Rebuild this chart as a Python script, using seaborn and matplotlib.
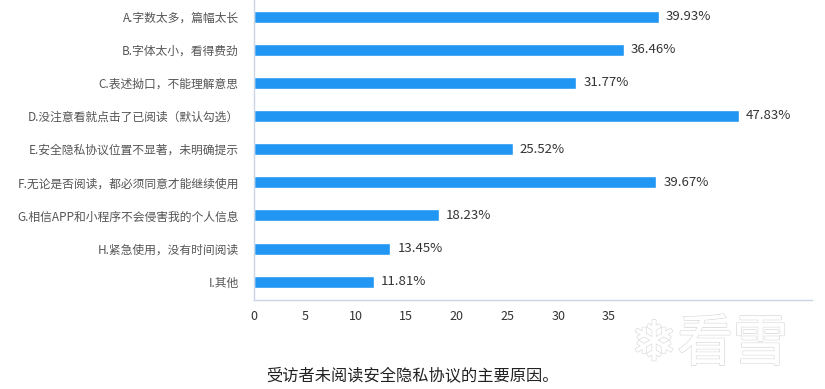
import matplotlib
matplotlib.use("Agg")
import matplotlib.pyplot as plt
import matplotlib.patheffects as pe
import seaborn as sns
import pandas as pd

categories = [
    "A.字数太多，篇幅太长",
    "B.字体太小，看得费劲",
    "C.表述拗口，不能理解意思",
    "D.没注意看就点击了已阅读（默认勾选）",
    "E.安全隐私协议位置不显著，未明确提示",
    "F.无论是否阅读，都必须同意才能继续使用",
    "G.相信APP和小程序不会侵害我的个人信息",
    "H.紧急使用，没有时间阅读",
    "I.其他",
]
values = [39.93, 36.46, 31.77, 47.83, 25.52, 39.67, 18.23, 13.45, 11.81]
xticks = [0, 5, 10, 15, 20, 25, 30, 35]
caption = "受访者未阅读安全隐私协议的主要原因。"

sns.set_style("white")
plt.rcParams["font.family"] = ["Noto Sans CJK SC", "DejaVu Sans"]

df = pd.DataFrame({"reason": categories, "pct": values})

fig = plt.figure(figsize=(8.25, 3.89), dpi=100)
ax = fig.add_axes([0.308, 0.229, 0.676, 0.771])

sns.barplot(data=df, y="reason", x="pct", color="#2196f3", saturation=1,
            width=0.36, orient="h", ax=ax)

for i, v in enumerate(values):
    ax.text(v + 0.7, i, f"{v:.2f}%", va="center", ha="left",
            fontsize=9.5, color="#333333")

ax.set_xlim(0, 55)
ax.set_ylim(8.55, -0.5)
ax.set_xticks(xticks)
ax.set_xticklabels([str(t) for t in xticks], fontsize=9, color="#333333")
ax.tick_params(axis="x", length=0, pad=7)
ax.tick_params(axis="y", length=0, pad=11, labelsize=8.5, labelcolor="#555555")
ax.set_xlabel("")
ax.set_ylabel("")
for s in ["top", "right"]:
    ax.spines[s].set_visible(False)
for s in ["left", "bottom"]:
    ax.spines[s].set_color("#c9d6e6")
    ax.spines[s].set_linewidth(1)

fig.text(0.5, 0.012, caption, ha="center", va="bottom", fontsize=11.7,
         color="#222222")

wm = fig.text(0.86, 0.04, "❄看雪", ha="center", va="bottom", fontsize=40,
              color="white", family=["Noto Sans CJK SC", "DejaVu Sans"])
wm.set_path_effects([pe.withStroke(linewidth=1.2, foreground="#dcdcdc"),
                     pe.Normal()])

fig.savefig("out.png", dpi=100)
